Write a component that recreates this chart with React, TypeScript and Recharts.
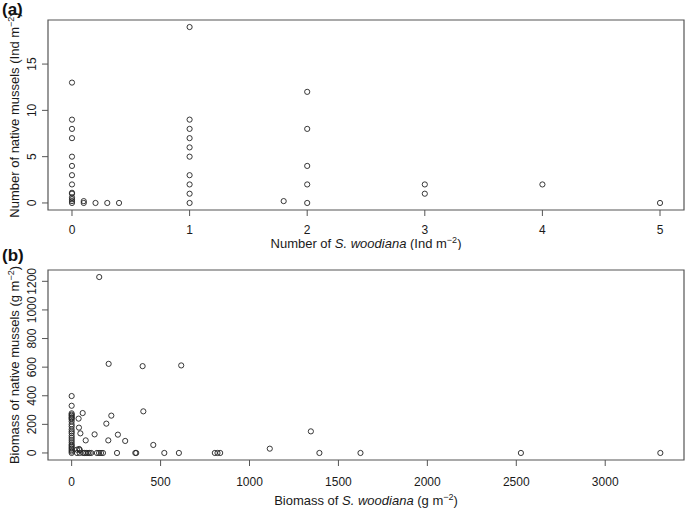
import React from 'react';
import { ScatterChart, Scatter, XAxis, YAxis, ReferenceArea, Label } from 'recharts';

// Panel (a): densities (Ind m^-2)
const countWoodiana = [
  0, 0, 0, 0, 0, 0, 0, 0, 0, 0, 0, 0, 0, 0,
  0.1, 0.1, 0.2, 0.3, 0.4,
  1, 1, 1, 1, 1, 1, 1, 1, 1, 1,
  1.8,
  2, 2, 2, 2, 2,
  3, 3,
  4,
  5,
];
const countNative = [
  13, 9, 8, 7, 5, 4, 3, 2, 1.1, 1, 0.6, 0.4, 0.2, 0,
  0.2, 0, 0, 0, 0,
  19, 9, 8, 7, 6, 5, 3, 2, 1, 0,
  0.2,
  12, 8, 4, 2, 0,
  2, 1,
  2,
  0,
];

// Panel (b): biomass (g m^-2)
const biomassWoodiana = [
  0, 0, 0, 0, 0, 0, 0, 0, 0, 0, 0, 0, 0, 0, 0, 0, 0, 0, 0, 0, 0, 0, 0, 0, 0,
  155, 208, 399, 616, 62, 39, 41, 49, 79, 129, 195, 223, 206, 260, 301, 403, 459, 30, 46, 42, 1114, 1345,
  30, 45, 64, 73, 82, 92, 101, 110, 142, 154, 165, 176, 255, 358, 363, 521, 603, 805, 820, 835, 1393, 1624, 2526, 3310,
];
const biomassNative = [
  398, 330, 277, 268, 260, 250, 243, 235, 220, 200, 185, 165, 150, 138, 120, 105, 90, 75, 60, 50, 40, 30, 20, 10, 0,
  1230, 623, 607, 612, 279, 240, 177, 137, 88, 130, 205, 261, 88, 128, 84, 291, 56, 23, 20, 28, 30, 151,
  0, 0, 0, 0, 0, 0, 0, 0, 0, 0, 0, 0, 0, 0, 0, 0, 0, 0, 0, 0, 0, 0, 0, 0,
];

const countXTicks = [0, 1, 2, 3, 4, 5];
const countYTicks = [0, 5, 10, 15];
const biomassXTicks = [0, 500, 1000, 1500, 2000, 2500, 3000];
const biomassYTicks = [0, 200, 400, 600, 800, 1000, 1200];

const countData = countWoodiana.map((x, i) => ({ x, y: countNative[i] }));
const biomassData = biomassWoodiana.map((x, i) => ({ x, y: biomassNative[i] }));

const FONT = '"Liberation Sans", Arial, Helvetica, sans-serif';
const INK = '#1a1a1a';
const FRAME = '#555';

const Dot = (p: any) => (
  <circle cx={p.cx} cy={p.cy} r={2.6} fill="none" stroke="#222" strokeWidth={0.9} />
);

const YTick = (props: any) => {
  const { x, y, payload } = props;
  return (
    <text
      x={x}
      y={y}
      transform={`rotate(-90, ${x}, ${y})`}
      textAnchor="middle"
      fontSize={12}
      fill={INK}
      fontFamily={FONT}
    >
      {payload.value}
    </text>
  );
};

const XTitle = (props: any) => {
  const { viewBox, prefix, unit, offsetY } = props;
  const cx = viewBox.x + viewBox.width / 2;
  const y = viewBox.y + offsetY;
  return (
    <text x={cx} y={y} textAnchor="middle" fontSize={13} fontFamily={FONT} fill={INK}>
      {prefix}
      <tspan fontStyle="italic">S. woodiana</tspan>
      {` (${unit} m`}
      <tspan dy={-5} fontSize={9}>−2</tspan>
      <tspan dy={5}>)</tspan>
    </text>
  );
};

const YTitle = (props: any) => {
  const { viewBox, text, unit } = props;
  const cy = viewBox.y + viewBox.height / 2;
  const x = 19;
  return (
    <text
      x={x}
      y={cy}
      transform={`rotate(-90, ${x}, ${cy})`}
      textAnchor="middle"
      fontSize={13}
      fontFamily={FONT}
      fill={INK}
    >
      {`${text} (${unit} m`}
      <tspan dy={-5} fontSize={9}>−2</tspan>
      <tspan dy={5}>)</tspan>
    </text>
  );
};

const panelLabel: React.CSSProperties = {
  position: 'absolute',
  left: 2,
  fontFamily: FONT,
  fontWeight: 'bold',
  fontSize: 17,
  lineHeight: '17px',
  color: '#111',
};

export default function App() {
  return (
    <div style={{ position: 'absolute', left: 0, top: 0, width: 685, height: 509, background: '#fff', overflow: 'hidden' }}>
      <div style={{ ...panelLabel, top: 1 }}>(a)</div>
      <div style={{ ...panelLabel, top: 247 }}>(b)</div>

      <div style={{ position: 'absolute', left: 0, top: 0 }}>
        <ScatterChart width={685} height={250} margin={{ top: 20, right: 1, left: 0, bottom: 0 }}>
          <XAxis
            type="number"
            dataKey="x"
            domain={[-0.204, 5.204]}
            ticks={countXTicks}
            interval={0}
            allowDataOverflow
            height={40}
            axisLine={false}
            tickSize={6}
            tickMargin={9}
            tickLine={{ stroke: FRAME }}
            tick={{ fontSize: 12, fill: INK, fontFamily: FONT }}
          >
            <Label content={(p: any) => <XTitle {...p} prefix="Number of " unit="Ind" offsetY={38} />} />
          </XAxis>
          <YAxis
            type="number"
            dataKey="y"
            domain={[-0.76, 19.76]}
            ticks={countYTicks}
            interval={0}
            allowDataOverflow
            width={48}
            axisLine={false}
            tickSize={6}
            tickMargin={6}
            tickLine={{ stroke: FRAME }}
            tick={<YTick />}
          >
            <Label content={(p: any) => <YTitle {...p} text="Number of native mussels" unit="Ind" />} />
          </YAxis>
          <ReferenceArea
            x1={-0.204}
            x2={5.204}
            y1={-0.76}
            y2={19.76}
            fill="none"
            stroke={FRAME}
            strokeWidth={1.2}
            ifOverflow="visible"
          />
          <Scatter data={countData} shape={Dot} isAnimationActive={false} />
        </ScatterChart>
      </div>

      <div style={{ position: 'absolute', left: 0, top: 250 }}>
        <ScatterChart width={685} height={259} margin={{ top: 20, right: 1, left: 0, bottom: 0 }}>
          <XAxis
            type="number"
            dataKey="x"
            domain={[-133, 3443]}
            ticks={biomassXTicks}
            interval={0}
            allowDataOverflow
            height={49}
            axisLine={false}
            tickSize={6}
            tickMargin={11}
            tickLine={{ stroke: FRAME }}
            tick={{ fontSize: 12, fill: INK, fontFamily: FONT }}
          >
            <Label content={(p: any) => <XTitle {...p} prefix="Biomass of " unit="g" offsetY={45} />} />
          </XAxis>
          <YAxis
            type="number"
            dataKey="y"
            domain={[-49.2, 1279.2]}
            ticks={biomassYTicks}
            interval={0}
            allowDataOverflow
            width={48}
            axisLine={false}
            tickSize={6}
            tickMargin={6}
            tickLine={{ stroke: FRAME }}
            tick={<YTick />}
          >
            <Label content={(p: any) => <YTitle {...p} text="Biomass of native mussels" unit="g" />} />
          </YAxis>
          <ReferenceArea
            x1={-133}
            x2={3443}
            y1={-49.2}
            y2={1279.2}
            fill="none"
            stroke={FRAME}
            strokeWidth={1.2}
            ifOverflow="visible"
          />
          <Scatter data={biomassData} shape={Dot} isAnimationActive={false} />
        </ScatterChart>
      </div>
    </div>
  );
}
